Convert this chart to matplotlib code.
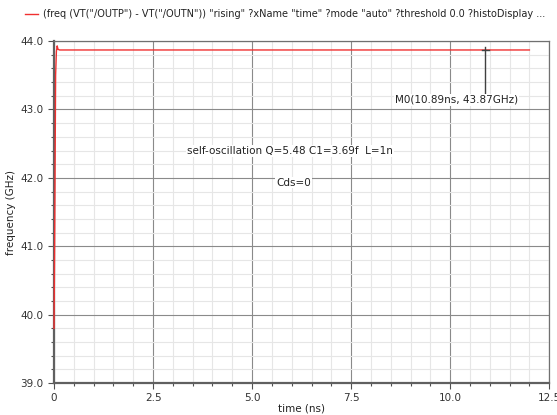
import matplotlib
matplotlib.use("Agg")
import matplotlib.pyplot as plt
from matplotlib.ticker import MultipleLocator

# waveform data (time in ns, frequency in GHz)
time_ns = [0.0, 0.02, 0.04, 0.06, 0.08, 0.10, 0.14, 2.0, 5.0, 8.0, 10.89, 12.0]
freq_ghz = [39.8, 41.45, 43.5, 43.85, 43.93, 43.88, 43.87, 43.87, 43.87, 43.87, 43.87, 43.87]

legend_text = ('(freq (VT("/OUTP") - VT("/OUTN")) "rising" ?xName "time" ?mode "auto" '
               '?threshold 0.0 ?histoDisplay ...')
marker_t = 10.89
marker_f = 43.87
marker_label = "M0(10.89ns, 43.87GHz)"
note1 = "self-oscillation Q=5.48 C1=3.69f  L=1n"
note2 = "Cds=0"

fig = plt.figure(figsize=(5.57, 4.15), dpi=100)
ax = fig.add_axes([0.097, 0.077, 0.889, 0.824])

# grid
ax.set_xlim(0, 12.5)
ax.set_ylim(39.0, 44.0)
ax.xaxis.set_major_locator(MultipleLocator(2.5))
ax.xaxis.set_minor_locator(MultipleLocator(0.5))
ax.yaxis.set_major_locator(MultipleLocator(1.0))
ax.yaxis.set_minor_locator(MultipleLocator(0.2))
ax.grid(which="minor", color="#e6e6e6", linewidth=0.8)
ax.grid(which="major", color="#8a8a8a", linewidth=0.8)
ax.set_axisbelow(True)
ax.xaxis.set_major_formatter(lambda v, p: "0" if v == 0 else f"{v:.1f}")
ax.yaxis.set_major_formatter(lambda v, p: f"{v:.1f}")

# trace
ax.plot(time_ns, freq_ghz, color="#f03030", linewidth=1.0, clip_on=False, zorder=3)

# marker
ax.plot([marker_t, marker_t], [marker_f + 0.05, 43.22], color="#404040", linewidth=1.0, zorder=4)
ax.plot([marker_t - 0.08, marker_t + 0.08], [marker_f, marker_f], color="#404040", linewidth=1.0, zorder=4)

box = dict(facecolor="white", edgecolor="none", pad=0.6)
ax.text(10.15, 43.14, marker_label, fontsize=7.5, color="#222222",
        ha="center", va="center", bbox=box, zorder=5)
ax.text(5.95, 42.39, note1, fontsize=7.5, color="#222222", ha="center", va="center", bbox=box)
ax.text(6.05, 41.93, note2, fontsize=7.5, color="#222222", ha="center", va="center", bbox=box)

# axes styling
for side in ["left", "bottom"]:
    ax.spines[side].set_color("#606060")
    ax.spines[side].set_linewidth(1.6)
for side in ["top", "right"]:
    ax.spines[side].set_color("#707070")
    ax.spines[side].set_linewidth(0.9)
ax.tick_params(which="major", length=4, width=0.8, color="#505050", labelsize=7.5,
               labelcolor="#333333", direction="out")
ax.tick_params(which="minor", length=2, width=0.8, color="#505050", direction="out")

ax.set_xlabel("time (ns)", fontsize=7.5, color="#222222", labelpad=0)
ax.set_ylabel("frequency (GHz)", fontsize=7.5, color="#222222", labelpad=3)

# legend line above the plot
fig.lines.append(plt.Line2D([0.045, 0.068], [0.966, 0.966], color="#f03030",
                            linewidth=1.0, transform=fig.transFigure))
fig.text(0.077, 0.966, legend_text, fontsize=7, color="#222222", va="center", ha="left")

fig.savefig("out.png", dpi=100)
